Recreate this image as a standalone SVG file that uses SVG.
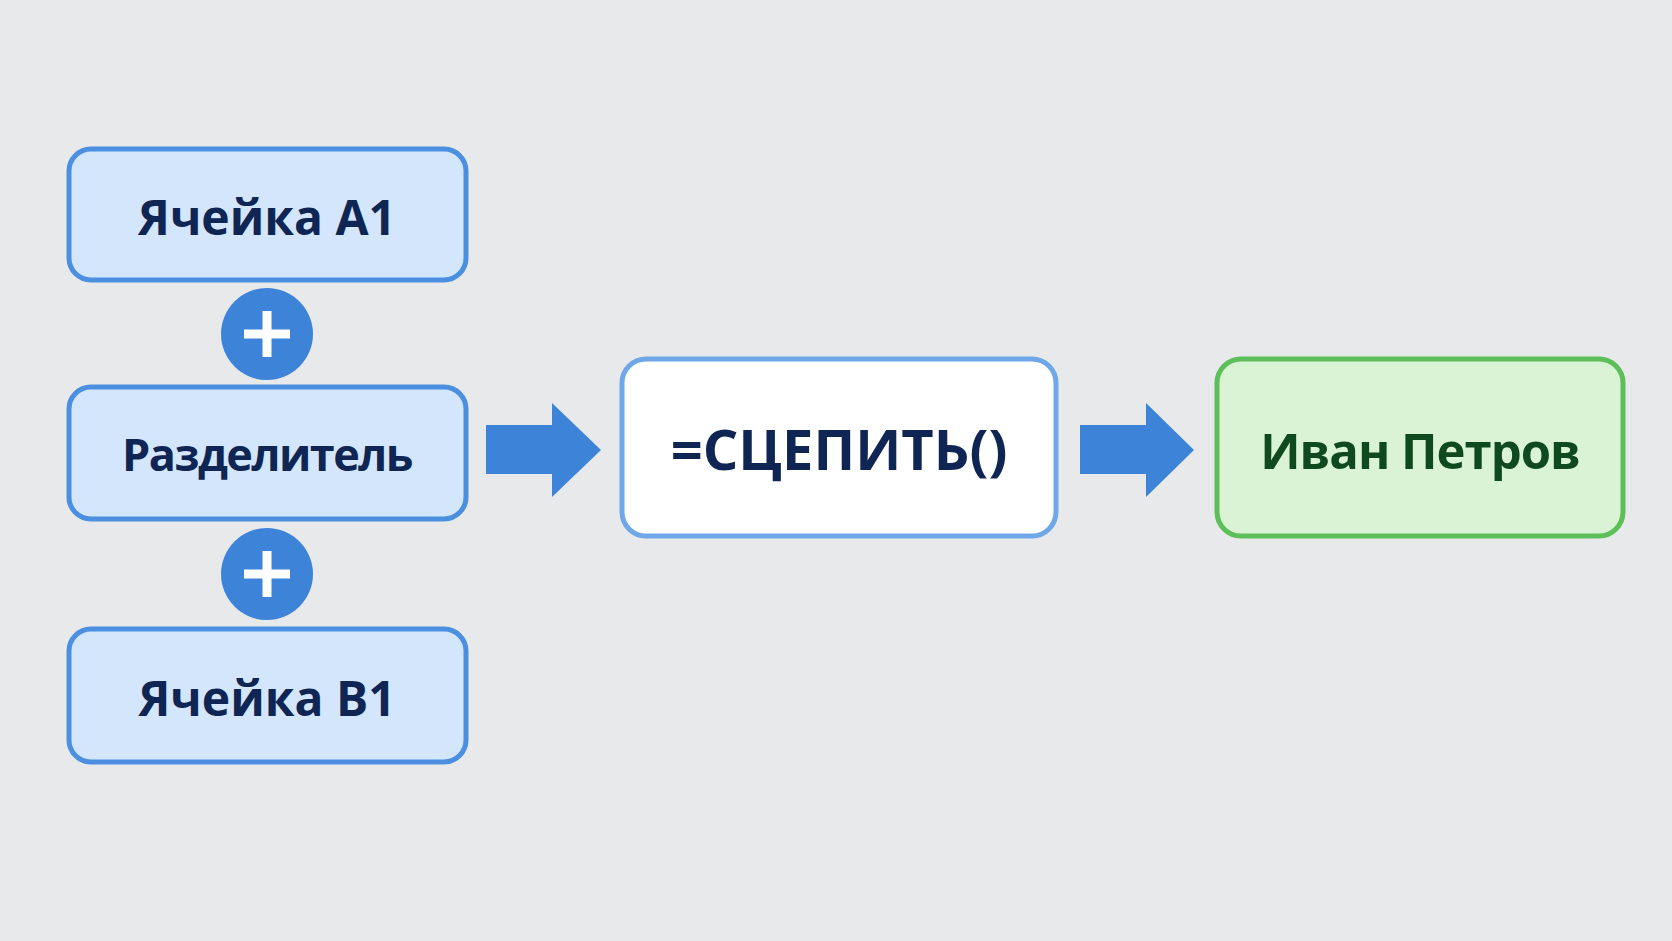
<svg xmlns="http://www.w3.org/2000/svg" width="1672" height="941" viewBox="0 0 1672 941">
<style>
.b{fill:#d3e6fb;stroke:#4a8fe0;stroke-width:5}
.t{font-family:"Open Sans","Noto Sans",sans-serif;font-weight:bold;font-size:48px;fill:#0f2553;text-anchor:middle;dominant-baseline:central}
.p{fill:#3d84d9}
</style>
<rect width="1672" height="941" fill="#e8e9eb"/>
<g id="a1"><rect class="b" x="69" y="149" width="397" height="131" rx="22"/><text class="t" x="267" y="216">Ячейка A1</text></g>
<g id="plus1"><circle class="p" cx="267" cy="334" r="46"/><path d="M244 334h46M267 311v46" stroke="#fff" stroke-width="9"/></g>
<g id="razd"><rect class="b" x="69" y="387" width="397" height="132" rx="22"/><text class="t" x="267" y="453" style="font-size:45px;letter-spacing:-1.5px">Разделитель</text></g>
<g id="plus2"><circle class="p" cx="267" cy="574" r="46"/><path d="M244 574h46M267 551v46" stroke="#fff" stroke-width="9"/></g>
<g id="b1"><rect class="b" x="69" y="629" width="397" height="133" rx="22"/><text class="t" x="267" y="697">Ячейка B1</text></g>
<g id="connectors">
<path class="p" d="M486 425H552V403L601 450L552 497V474H486Z"/>
<path class="p" d="M1080 425H1146V403L1194 450L1146 497V474H1080Z"/>
</g>
<g id="formula"><rect x="622" y="359" width="434" height="177" rx="24" fill="#fff" stroke="#6fa8e8" stroke-width="5"/><text class="t" x="839" y="448" style="font-size:56px">=СЦЕПИТЬ()</text></g>
<g id="result"><rect x="1217" y="359" width="406" height="177" rx="24" fill="#d9f3d4" stroke="#5cbf5a" stroke-width="5"/><text class="t" x="1420" y="450" style="fill:#0f4a1e;font-size:49px;letter-spacing:-1px">Иван Петров</text></g>
</svg>
